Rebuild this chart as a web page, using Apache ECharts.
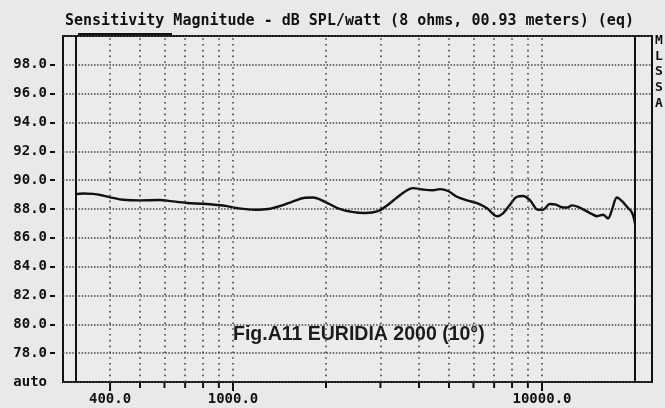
<!DOCTYPE html>
<html>
<head>
<meta charset="utf-8">
<title>Sensitivity Magnitude</title>
<script src="https://cdn.jsdelivr.net/npm/echarts/dist/echarts.min.js"></script>
<style>
  html, body { margin: 0; padding: 0; background: #e9e9e9; }
  #chart { width: 665px; height: 408px; }
</style>
</head>
<body>
<div id="chart"></div>
<script>
// Frequency (Hz) and sensitivity (dB SPL / watt) of the measured response
const freqHz = [310, 327, 352, 380, 409, 441, 500, 580, 611, 710, 800, 888, 956,
  1038, 1178, 1298, 1441, 1552, 1710, 1815, 1985, 2187, 2427, 2674, 2946, 3175,
  3395, 3658, 3824, 4120, 4439, 4677, 4964, 5307, 5719, 6163, 6637, 7152, 7478,
  7878, 8300, 8679, 9146, 9707, 10070, 10610, 11100, 11610, 12050, 12510, 13080,
  13780, 14520, 15070, 15760, 16350, 16850, 17490, 18150, 18840, 19560, 20000];
const splDb = [89.03, 89.08, 89.05, 88.93, 88.77, 88.64, 88.6, 88.62, 88.58, 88.42,
  88.36, 88.28, 88.2, 88.05, 87.95, 88.0, 88.25, 88.5, 88.78, 88.8, 88.5, 88.05,
  87.8, 87.72, 87.85, 88.3, 88.8, 89.3, 89.45, 89.35, 89.3, 89.38, 89.25, 88.85,
  88.6, 88.4, 88.05, 87.5, 87.7, 88.3, 88.85, 88.9, 88.6, 87.95, 87.95, 88.35,
  88.3, 88.12, 88.1, 88.25, 88.15, 87.9, 87.65, 87.5, 87.6, 87.35, 87.95, 88.8,
  88.55, 88.15, 87.75, 87.0];

// Axis ticks, grid lines and labels
const yTickValues = [78, 80, 82, 84, 86, 88, 90, 92, 94, 96, 98];
const yLabelValues = [76, 78, 80, 82, 84, 86, 88, 90, 92, 94, 96, 98];
const xGridValues = [400, 500, 600, 700, 800, 900, 1000,
  2000, 3000, 4000, 5000, 6000, 7000, 8000, 9000, 10000];
const xMajorValues = [400, 1000, 10000];
const bandEdges = [310, 20000];
const sideLetters = ['M', 'L', 'S', 'S', 'A'];

const title = 'Sensitivity Magnitude - dB SPL/watt (8 ohms, 00.93 meters) (eq)';
const caption = 'Fig.A11 EURIDIA 2000 (10°)';

const mono = '"DejaVu Sans Mono", "Liberation Mono", monospace';
const ink = '#111';
const yMin = 76;

const chart = echarts.init(document.getElementById('chart'), null, { renderer: 'canvas' });

const gridMarks = xGridValues.map(v => ({
  xAxis: v,
  lineStyle: { color: '#444', width: 1.6, type: [1.6, 4.2] }
}));
const edgeMarks = bandEdges.map(v => ({
  xAxis: v,
  lineStyle: { color: ink, width: 2, type: 'solid' }
}));

// Frequency ticks hanging below the frame, longer at the labelled decades
function renderFreqTick(params, api) {
  const p = api.coord([api.value(0), api.value(1)]);
  const len = api.value(2) ? 8 : 5;
  return {
    type: 'line',
    shape: { x1: p[0], y1: p[1] + 1, x2: p[0], y2: p[1] + 1 + len },
    style: { stroke: ink, lineWidth: 2 }
  };
}

chart.setOption({
  backgroundColor: '#e9e9e9',
  animation: false,
  title: {
    text: title,
    left: 60,
    top: 9,
    textStyle: { fontFamily: mono, fontSize: 15, fontWeight: 'bold', color: ink }
  },
  grid: {
    left: 63, top: 36, width: 589, height: 346,
    show: true, borderColor: ink, borderWidth: 2, backgroundColor: '#ebebeb'
  },
  xAxis: {
    type: 'log',
    logBase: 10,
    min: 281.7,
    max: 22700,
    position: 'bottom',
    axisLine: { show: false },
    axisTick: { show: false },
    splitLine: { show: false },
    axisLabel: {
      show: true, customValues: xMajorValues, margin: 10,
      formatter: v => Number(v).toFixed(1),
      fontFamily: mono, fontSize: 14, fontWeight: 'bold', color: ink
    }
  },
  yAxis: [
    {
      type: 'value', min: yMin, max: 100, interval: 2,
      axisLine: { show: false },
      axisTick: { show: false },
      splitLine: { show: true, lineStyle: { color: '#444', width: 1.5, type: [1.5, 1.6] } },
      axisLabel: {
        show: true, customValues: yLabelValues, margin: 16,
        formatter: v => (v === yMin ? 'auto' : Number(v).toFixed(1)),
        fontFamily: mono, fontSize: 14, fontWeight: 'bold', color: ink
      }
    },
    {
      type: 'value', min: yMin, max: 100, interval: 2, position: 'left', offset: 8,
      axisLine: { show: false },
      splitLine: { show: false },
      axisLabel: { show: false },
      axisTick: { show: true, customValues: yTickValues, length: 5, lineStyle: { color: ink, width: 2 } }
    }
  ],
  series: [
    {
      type: 'line',
      xAxisIndex: 0,
      yAxisIndex: 0,
      data: freqHz.map((f, i) => [f, splDb[i]]),
      showSymbol: false,
      smooth: 0.35,
      lineStyle: { color: ink, width: 2.4 },
      markLine: {
        silent: true,
        symbol: 'none',
        label: { show: false },
        data: gridMarks.concat(edgeMarks)
      }
    },
    {
      type: 'custom',
      xAxisIndex: 0,
      yAxisIndex: 0,
      silent: true,
      clip: false,
      renderItem: renderFreqTick,
      data: xGridValues.map(v => [v, yMin, xMajorValues.includes(v) ? 1 : 0])
    }
  ],
  graphic: [
    { type: 'rect', shape: { x: 78, y: 33, width: 94, height: 4 }, style: { fill: ink } },
    {
      type: 'text', left: 233, top: 325,
      style: {
        text: caption, fill: '#1c1c1c',
        font: 'bold 19.5px "Liberation Sans", Arial, sans-serif'
      }
    }
  ].concat(sideLetters.map((ch, i) => ({
    type: 'text', left: 655, top: 34 + i * 15.8,
    style: { text: ch, fill: ink, font: 'bold 13px ' + mono }
  })))
});
</script>
</body>
</html>
